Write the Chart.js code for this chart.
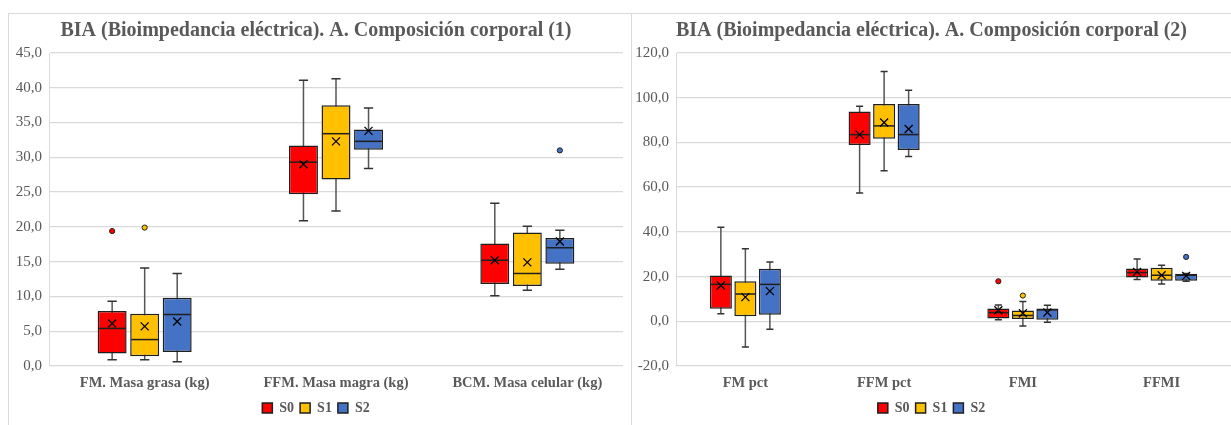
<!DOCTYPE html>
<html>
<head>
<meta charset="utf-8">
<script src="https://cdn.jsdelivr.net/npm/chart.js@4"></script>
<style>
  html, body { margin: 0; padding: 0; background: #ffffff; width: 1231px; height: 425px; overflow: hidden; }
  .panel { position: absolute; top: 13px; border-top: 1px solid #d9d9d9; border-left: 1px solid #d9d9d9; box-sizing: border-box; }
  #p1 { left: 8px; width: 624px; height: 412px; border-right: 1px solid #d9d9d9; }
  #p2 { left: 631px; width: 600px; height: 412px; }
  canvas { display: block; }
</style>
</head>
<body>
<div class="panel" id="p1"><canvas id="c1" width="622" height="411"></canvas></div>
<div class="panel" id="p2"><canvas id="c2" width="599" height="411"></canvas></div>
<script>
// ---- Data (each entry: [min, Q1, median, Q3, max, mean]) ----
const seriesNames = ['S0', 'S1', 'S2'];
const seriesColors = ['#FF0000', '#FFC000', '#4472C4'];

const title1 = 'BIA (Bioimpedancia eléctrica). A. Composición corporal (1)';
const cats1 = ['FM. Masa grasa (kg)', 'FFM. Masa magra (kg)', 'BCM. Masa celular (kg)'];
const p1_S0 = [[0.9, 1.8, 5.4, 7.9, 9.3, 6.1], [20.9, 24.7, 29.3, 31.7, 41.1, 29.0], [10.1, 11.8, 15.2, 17.6, 23.4, 15.2]];
const p1_S1 = [[0.9, 1.4, 3.8, 7.5, 14.1, 5.7], [22.3, 26.8, 33.4, 37.5, 41.3, 32.3], [10.9, 11.5, 13.3, 19.2, 20.1, 14.9]];
const p1_S2 = [[0.6, 2.0, 7.4, 9.8, 13.3, 6.4], [28.4, 31.1, 32.3, 34.0, 37.1, 33.8], [13.9, 14.7, 17.0, 18.4, 19.5, 17.9]];
const p1_S0_out = [[19.4], [], []];
const p1_S1_out = [[19.9], [], []];
const p1_S2_out = [[], [], [31.0]];
const p1_yMin = 0, p1_yMax = 45, p1_yStep = 5;

const title2 = 'BIA (Bioimpedancia eléctrica). A. Composición corporal (2)';
const cats2 = ['FM pct', 'FFM pct', 'FMI', 'FFMI'];
const p2_S0 = [[3.4, 5.6, 16.5, 20.5, 42.1, 16.0], [57.4, 78.9, 83.5, 93.8, 96.2, 83.5], [0.7, 1.3, 3.9, 5.7, 7.3, 4.9], [18.7, 19.6, 21.8, 23.6, 27.9, 22.1]];
const p2_S1 = [[-11.5, 2.3, 12.2, 17.9, 32.4, 10.8], [67.3, 81.6, 87.4, 97.2, 111.7, 88.9], [-2.1, 1.0, 2.6, 4.8, 8.8, 3.6], [16.7, 18.1, 20.6, 24.0, 25.1, 20.6]];
const p2_S2 = [[-3.6, 2.9, 16.5, 23.5, 26.5, 13.5], [73.7, 76.6, 83.5, 97.2, 103.3, 86.0], [-0.4, 0.7, 5.1, 5.7, 7.2, 3.9], [17.9, 18.1, 20.6, 21.3, 21.4, 20.3]];
const p2_S0_out = [[], [], [17.9], []];
const p2_S1_out = [[], [], [11.5], []];
const p2_S2_out = [[], [], [], [28.8]];
const p2_yMin = -20, p2_yMax = 120, p2_yStep = 20;

const TXT = '#595959';
const GRID = '#d9d9d9';
const EDGE = '#1f1f1f';

// ---- Box plot decorations drawn through the chart's scales ----
const boxDecor = {
  id: 'boxDecor',
  beforeDatasetsDraw(chart) {
    const ctx = chart.ctx, ys = chart.scales.y;
    chart.data.datasets.forEach((ds, di) => {
      chart.getDatasetMeta(di).data.forEach((bar, i) => {
        const s = ds.stats[i];
        const x = bar.x, cap = bar.width * 0.32;
        const yMin = ys.getPixelForValue(s[0]), yMax = ys.getPixelForValue(s[4]);
        ctx.save();
        ctx.strokeStyle = '#555555';
        ctx.lineWidth = 1.5;
        ctx.beginPath();
        ctx.moveTo(x, yMin); ctx.lineTo(x, yMax);
        ctx.stroke();
        ctx.strokeStyle = '#333333';
        ctx.beginPath();
        ctx.moveTo(x - cap / 2, yMin); ctx.lineTo(x + cap / 2, yMin);
        ctx.moveTo(x - cap / 2, yMax); ctx.lineTo(x + cap / 2, yMax);
        ctx.stroke();
        ctx.restore();
      });
    });
  },
  afterDatasetsDraw(chart) {
    const ctx = chart.ctx, ys = chart.scales.y;
    chart.data.datasets.forEach((ds, di) => {
      chart.getDatasetMeta(di).data.forEach((bar, i) => {
        const s = ds.stats[i];
        const x = bar.x, w = bar.width;
        ctx.save();
        // median
        const ym = ys.getPixelForValue(s[2]);
        ctx.strokeStyle = EDGE;
        ctx.lineWidth = 1.5;
        ctx.beginPath();
        ctx.moveTo(x - w / 2 + 1, ym); ctx.lineTo(x + w / 2 - 1, ym);
        ctx.stroke();
        // mean marker (x)
        const ya = ys.getPixelForValue(s[5]);
        const r = 4;
        ctx.strokeStyle = '#000000';
        ctx.lineWidth = 1.3;
        ctx.beginPath();
        ctx.moveTo(x - r, ya - r); ctx.lineTo(x + r, ya + r);
        ctx.moveTo(x - r, ya + r); ctx.lineTo(x + r, ya - r);
        ctx.stroke();
        // outliers
        (ds.outliers[i] || []).forEach(v => {
          const yo = ys.getPixelForValue(v);
          ctx.beginPath();
          ctx.arc(x, yo, 2.6, 0, Math.PI * 2);
          ctx.fillStyle = ds.backgroundColor;
          ctx.fill();
          ctx.lineWidth = 1;
          ctx.strokeStyle = '#222222';
          ctx.stroke();
        });
        ctx.restore();
      });
    });
  }
};

function makeDatasets(list, outs, barPct) {
  return list.map((stats, k) => ({
    label: seriesNames[k],
    data: stats.map(s => [s[1], s[3]]),
    stats: stats,
    outliers: outs[k],
    backgroundColor: seriesColors[k],
    borderColor: EDGE,
    borderWidth: 1.5,
    borderSkipped: false,
    barPercentage: barPct.bar,
    categoryPercentage: barPct.cat
  }));
}

function makeChart(id, title, cats, list, outs, yMin, yMax, yStep, yWidth, rightPad, pct) {
  return new Chart(document.getElementById(id), {
    type: 'bar',
    data: { labels: cats, datasets: makeDatasets(list, outs, pct) },
    plugins: [boxDecor],
    options: {
      responsive: false,
      animation: false,
      events: [],
      layout: { padding: { left: 0, right: rightPad, top: 0, bottom: 0 } },
      plugins: {
        tooltip: { enabled: false },
        title: {
          display: true, text: title, color: TXT,
          font: { family: 'Liberation Serif', size: 20, weight: 'bold' },
          padding: { top: 5, bottom: 10 }
        },
        legend: {
          display: true, position: 'bottom',
          labels: {
            color: TXT, boxWidth: 10, boxHeight: 10, padding: 6,
            font: { family: 'Liberation Serif', size: 14, weight: 'bold' }
          }
        }
      },
      scales: {
        x: {
          grid: { display: false, drawTicks: false },
          border: { display: false },
          ticks: { color: TXT, padding: 9, font: { family: 'Liberation Serif', size: 14.5, weight: 'bold' }, maxRotation: 0, autoSkip: false },
          afterFit(scale) { scale.height = 29; }
        },
        y: {
          min: yMin, max: yMax,
          grid: { color: GRID, lineWidth: 1.3, drawTicks: false },
          border: { display: true, color: GRID, width: 1 },
          ticks: {
            stepSize: yStep, color: TXT, padding: 7,
            font: { family: 'Liberation Serif', size: 15 },
            callback: v => v.toFixed(1).replace('.', ',')
          },
          afterFit(scale) { scale.width = yWidth; }
        }
      }
    }
  });
}

makeChart('c1', title1, cats1, [p1_S0, p1_S1, p1_S2], [p1_S0_out, p1_S1_out, p1_S2_out],
  p1_yMin, p1_yMax, p1_yStep, 40, 8, { bar: 0.89, cat: 0.51 });
makeChart('c2', title2, cats2, [p2_S0, p2_S1, p2_S2], [p2_S0_out, p2_S1_out, p2_S2_out],
  p2_yMin, p2_yMax, p2_yStep, 44, 0, { bar: 0.9, cat: 0.53 });
</script>
</body>
</html>
